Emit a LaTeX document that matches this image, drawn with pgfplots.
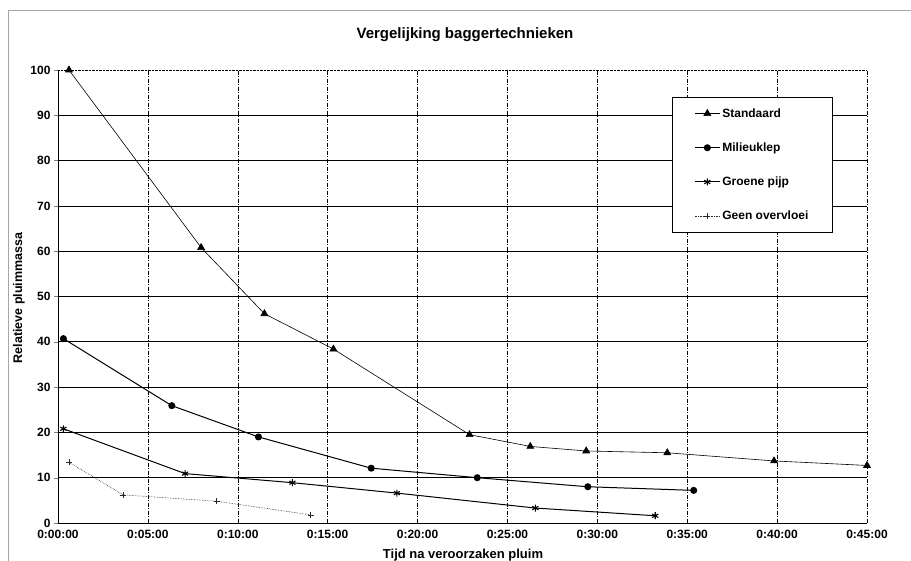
\documentclass[border=0pt]{standalone}
\usepackage{fontspec}
\setmainfont{Liberation Sans}
\usepackage{pgfplots}
\pgfplotsset{compat=1.18}
\begin{document}
\begin{tikzpicture}[x=1pt,y=1pt]
\useasboundingbox (0,0) rectangle (911,561);
\draw[gray!70, line width=0.8pt] (8,-2) -- (8,551) -- (913,551);
% title and axis labels
\node[font=\bfseries\fontsize{15}{17}\selectfont] at (465,526) {Vergelijking baggertechnieken};
\node[font=\bfseries\fontsize{12.5}{14}\selectfont, rotate=90] at (19,263) {Relatieve pluimmassa};
\node[font=\bfseries\fontsize{13}{15}\selectfont] at (463,6) {Tijd na veroorzaken pluim};
\begin{axis}[
  at={(58pt,38pt)}, anchor=south west, scale only axis,
  width=809pt, height=453pt,
  xmin=0, xmax=45, ymin=0, ymax=100,
  xtick={0,5,...,45},
  xticklabels={0:00:00,0:05:00,0:10:00,0:15:00,0:20:00,0:25:00,0:30:00,0:35:00,0:40:00,0:45:00},
  ytick={0,10,...,90},
  extra y ticks={100},
  extra y tick style={grid style={densely dotted, black}},
  tick label style={font=\bfseries\fontsize{12}{14}\selectfont},
  /pgf/number format/assume math mode=true,
  axis x line*=bottom, axis y line*=left,
  axis line style={black, line width=0.9pt, -},
  tick align=outside, tickwidth=4pt,
  xtick style={draw=none},
  ymajorgrids, xmajorgrids,
  y grid style={black, line width=0.6pt},
  x grid style={black, line width=0.5pt, dash pattern=on 4pt off 1.5pt on 1pt off 1.5pt},
  clip=false,
  legend style={at={(0.759,0.94)}, anchor=north west, draw=black, line width=0.6pt, fill=white,
    font=\bfseries\fontsize{12}{14}\selectfont, row sep=20pt, inner xsep=22pt, inner ysep=9pt,
    cells={anchor=west}},
  legend image code/.code={
    \draw[mark repeat=2,mark phase=2,#1] plot coordinates {(0pt,0pt) (12.5pt,0pt) (25pt,0pt)};},
]
\addplot[black, line width=0.6pt, mark=triangle*, mark size=4pt] coordinates {
  (0.61,100) (7.96,60.8) (11.48,46.2) (15.32,38.4) (22.89,19.5)
  (26.27,16.9) (29.38,15.9) (33.89,15.5) (39.83,13.7) (45,12.7)};
\addlegendentry{Standaard}
\addplot[black, line width=1pt, mark=*, mark size=3pt] coordinates {
  (0.3,40.7) (6.33,25.9) (11.15,19.0) (17.42,12.1) (23.32,10.0) (29.47,8.0) (35.36,7.2)};
\addlegendentry{Milieuklep}
\addplot[black, line width=1pt, mark=asterisk, mark size=3.5pt, mark options={line width=1.1pt}] coordinates {
  (0.3,20.8) (7.07,10.9) (13.04,8.9) (18.85,6.6) (26.55,3.3) (33.22,1.6)};
\addlegendentry{Groene pijp}
\addplot[black!85, line width=0.6pt, densely dotted, mark=+, mark size=3pt, mark options={solid}] coordinates {
  (0.61,13.4) (3.63,6.2) (8.83,4.8) (14.06,1.8)};
\addlegendentry{Geen overvloei}
\end{axis}
\end{tikzpicture}
\end{document}
